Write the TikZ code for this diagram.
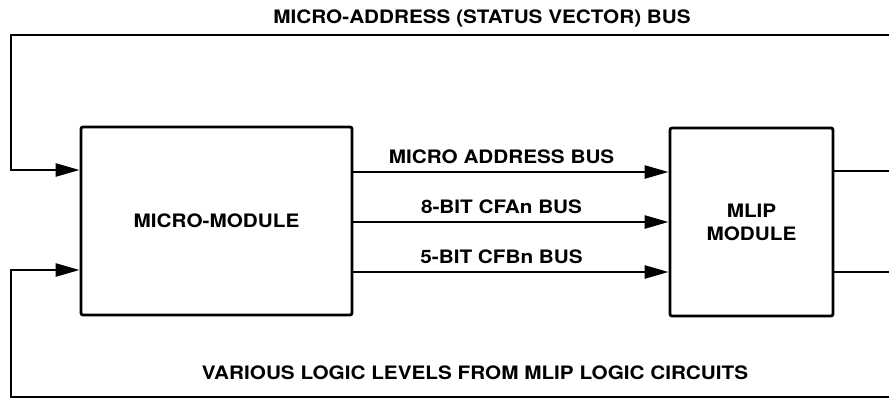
\documentclass[tikz,border=0pt]{standalone}
\usepackage{fontspec}
\setmainfont[FakeStretch=1.12]{TeX Gyre Heros}
\usetikzlibrary{arrows.meta}
\begin{document}
\begin{tikzpicture}[x=1pt,y=-1pt,
  lbl/.style={font=\bfseries\fontsize{18.5}{21}\selectfont, inner sep=0pt},
  box/.style={draw, line width=2.8pt, rounded corners=2pt, inner sep=0pt, align=center,
              font=\bfseries\fontsize{18.5}{23}\selectfont},
  wire/.style={line width=2.5pt},
  arr/.style={wire, -{Triangle[length=24pt,width=13pt]}}]
\useasboundingbox (0,0) rectangle (889,407);
\node[box, minimum width=271pt, minimum height=188pt] (micro) at (216.5,221) {MICRO-MODULE};
\node[box, minimum width=163pt, minimum height=188pt] (mlip) at (751.5,222) {MLIP\\MODULE};
\coordinate (tl) at (11,35);
\coordinate (tr) at (889,35);
\coordinate (bl) at (11,397);
\coordinate (br) at (889,397);
\coordinate (r1) at (889,171);
\coordinate (r2) at (889,272);
% top bus
\draw[arr] (tr) -- (tl) |- (micro.west |- 0,170);
\node[lbl] (toplbl) at (482,18) {MICRO-ADDRESS (STATUS VECTOR) BUS};
% bottom bus
\draw[arr] (br) -- (bl) |- (micro.west |- 0,270);
\node[lbl] (botlbl) at (475,373) {VARIOUS LOGIC LEVELS FROM MLIP LOGIC CIRCUITS};
% middle buses
\draw[arr] (micro.east |- 0,172) -- node[lbl, pos=0.47, above=7pt] {MICRO ADDRESS BUS} (mlip.west |- 0,172);
\draw[arr] (micro.east |- 0,222) -- node[lbl, pos=0.47, above=7pt] {8-BIT CFAn BUS} (mlip.west |- 0,222);
\draw[arr] (micro.east |- 0,272) -- node[lbl, pos=0.47, above=7pt] {5-BIT CFBn BUS} (mlip.west |- 0,272);
% right outputs
\draw[wire] (mlip.east |- 0,171) -- (r1);
\draw[wire] (mlip.east |- 0,272) -- (r2);
\end{tikzpicture}
\end{document}
